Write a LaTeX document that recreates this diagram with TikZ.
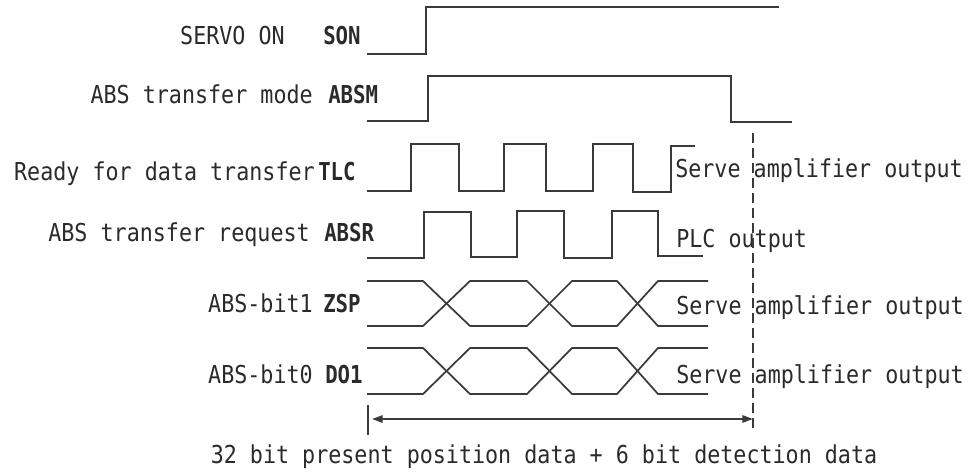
\documentclass[tikz,border=0pt]{standalone}
\usepackage{fontspec}
\newfontfamily\lblfont[FakeStretch=0.88,BoldFont={DejaVu Sans Mono Bold},BoldFeatures={FakeStretch=0.84}]{DejaVu Sans Mono}
\usetikzlibrary{arrows.meta}
\definecolor{wavec}{HTML}{3A3A3A}
\definecolor{textc}{HTML}{2A2A2A}
\begin{document}
\begin{tikzpicture}[x=0.75pt,y=-0.75pt,
  lblsize/.style={font=\lblfont\fontsize{18.5pt}{20pt}\selectfont},
  wave/.style={draw=wavec,line width=1.3pt,line join=miter},
  desc/.style={inner sep=0pt,anchor=base east,text=textc,lblsize},
  sig/.style={inner sep=0pt,anchor=base west,text=textc,font=\lblfont\bfseries\fontsize{18.5pt}{20pt}\selectfont},
  rlab/.style={inner sep=0pt,anchor=base west,text=textc,lblsize},
  guide/.style={draw=wavec,line width=1.1pt,dash pattern=on 7.5pt off 3.75pt},
  dim/.style={draw=wavec,line width=1.4pt,{Triangle[length=8pt,width=5.5pt]}-{Triangle[length=8pt,width=5.5pt]}}]
\useasboundingbox (0,0) rectangle (973,471);
% labels
\node[desc] (d1) at (285,44) {SERVO ON};
\node[sig]  (s1) at (323,44) {SON};
\node[desc] (d2) at (313,103) {ABS transfer mode};
\node[sig]  (s2) at (328,103) {ABSM};
\node[desc] (d3) at (315,180) {Ready for data transfer};
\node[sig]  (s3) at (318,180) {TLC};
\node[desc] (d4) at (310,241) {ABS transfer request};
\node[sig]  (s4) at (324,241) {ABSR};
\node[desc] (d5) at (313,312) {ABS-bit1};
\node[sig]  (s5) at (323,312) {ZSP};
\node[desc] (d6) at (313,383) {ABS-bit0};
\node[sig]  (s6) at (325,383) {DO1};
% right labels
\node[rlab] (r3) at (675,177) {Serve amplifier output};
\node[rlab] (r4) at (676,247) {PLC output};
\node[rlab] (r5) at (676,314) {Serve amplifier output};
\node[rlab] (r6) at (676,383) {Serve amplifier output};
% waveforms
\draw[wave] (367,54) -- (426,54) -- (426,7) -- (779,7);
\draw[wave] (367,121) -- (428,121) -- (428,76) -- (731,76) -- (731,122) -- (792,122);
\draw[wave] (367,191) -- (411,191) -- (411,144) -- (459,144) -- (459,191) -- (504,191) -- (504,144) -- (546,144) -- (546,191) -- (593,191) -- (593,144) -- (633,144) -- (633,192) -- (671,192) -- (671,146) -- (695,146);
\draw[wave] (367,258) -- (424,258) -- (424,212) -- (471,212) -- (471,257) -- (517,257) -- (517,211) -- (564,211) -- (564,258) -- (612,258) -- (612,211) -- (658,211) -- (658,256) -- (703,256);
\foreach \t/\b in {281/326,348/394}{
  \draw[wave] (367,\t) -- (423,\t) -- (470,\b) -- (527,\b) -- (572,\t) -- (617,\t) -- (658,\b) -- (708,\b);
  \draw[wave] (367,\b) -- (423,\b) -- (470,\t) -- (527,\t) -- (572,\b) -- (617,\b) -- (658,\t) -- (708,\t);
}
% dashed guide and dimension
\coordinate (gtop) at (753,133);
\coordinate (gbot) at (753,433);
\draw[guide] (gtop) -- (gbot);
\coordinate (ttop) at (368,405);
\coordinate (tbot) at (368,435);
\draw[draw=wavec,line width=1.1pt] (ttop) -- (tbot);
\coordinate (al) at (372,419);
\coordinate (ar) at (753,419);
\draw[dim] (al) -- (ar);
\node[inner sep=0pt,anchor=base,text=textc,lblsize] (cap) at (544,463) {32 bit present position data + 6 bit detection data};
\end{tikzpicture}
\end{document}
